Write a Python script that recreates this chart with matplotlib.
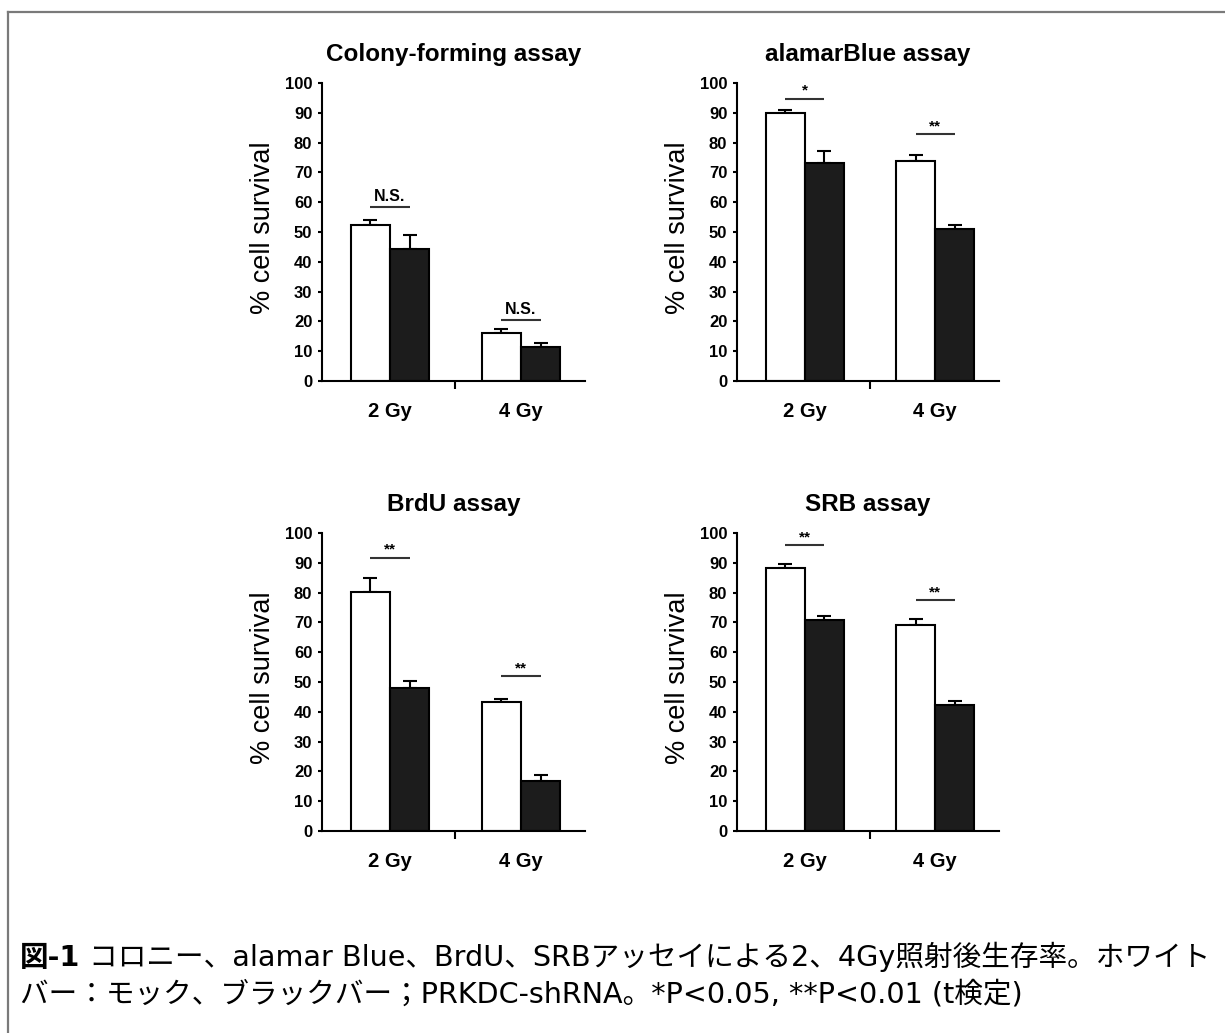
import matplotlib
matplotlib.use('Agg')
import matplotlib.pyplot as plt
from matplotlib.lines import Line2D
import numpy as np

# ---------------- data ----------------
groups = ["2 Gy", "4 Gy"]
titles = ["Colony-forming assay", "alamarBlue assay", "BrdU assay", "SRB assay"]

colony_white = [52.5, 16.2]
colony_white_err = [1.4, 1.4]
colony_black = [44.2, 11.4]
colony_black_err = [4.9, 1.4]

alamar_white = [90.0, 73.7]
alamar_white_err = [0.8, 2.0]
alamar_black = [73.2, 51.0]
alamar_black_err = [3.9, 1.2]

brdu_white = [80.2, 43.3]
brdu_white_err = [4.7, 1.1]
brdu_black = [48.0, 16.7]
brdu_black_err = [2.3, 2.2]

srb_white = [88.4, 69.2]
srb_white_err = [1.3, 2.1]
srb_black = [70.7, 42.2]
srb_black_err = [1.3, 1.4]

colony_sig = ["N.S.", "N.S."]
alamar_sig = ["*", "**"]
brdu_sig = ["**", "**"]
srb_sig = ["**", "**"]

colony_sig_y = [58.4, 20.6]
alamar_sig_y = [94.7, 82.8]
brdu_sig_y = [91.7, 52.0]
srb_sig_y = [95.9, 77.4]

ylabel = "% cell survival"
caption_bold = "図-1"
caption_line1 = " コロニー、alamar Blue、BrdU、SRBアッセイによる2、4Gy照射後生存率。ホワイト"
caption_line2 = "バー：モック、ブラックバー；PRKDC-shRNA。*P<0.05, **P<0.01 (t検定)"

# ---------------- layout ----------------
plt.rcParams['font.family'] = ['Liberation Sans', 'DejaVu Sans']
W, H = 1225, 1033
fig = plt.figure(figsize=(W / 100, H / 100), dpi=100)
fig.patch.set_facecolor('white')


def rect(x0, x1, ytop, ybot):
    return [x0 / W, 1 - ybot / H, (x1 - x0) / W, (ybot - ytop) / H]


panels = [
    (rect(322, 585, 83, 381), colony_white, colony_white_err, colony_black, colony_black_err, colony_sig, colony_sig_y),
    (rect(737, 999, 83, 381), alamar_white, alamar_white_err, alamar_black, alamar_black_err, alamar_sig, alamar_sig_y),
    (rect(322, 585, 533, 831), brdu_white, brdu_white_err, brdu_black, brdu_black_err, brdu_sig, brdu_sig_y),
    (rect(737, 999, 533, 831), srb_white, srb_white_err, srb_black, srb_black_err, srb_sig, srb_sig_y),
]

centers = np.array([1.0, 3.0])
off = 0.3
bw = 0.6

for i, (r, w, we, b, be, sig, sigy) in enumerate(panels):
    ax = fig.add_axes(r)
    ax.bar(centers - off, w, bw, color='white', edgecolor='black', linewidth=1.5, zorder=2)
    ax.bar(centers + off, b, bw, color='#1c1c1c', edgecolor='black', linewidth=1.5, zorder=2)
    ax.errorbar(centers - off, w, yerr=[np.zeros(len(w)), we], fmt='none', ecolor='black',
                elinewidth=1.5, capsize=5, capthick=1.5, zorder=1)
    ax.errorbar(centers + off, b, yerr=[np.zeros(len(b)), be], fmt='none', ecolor='black',
                elinewidth=1.5, capsize=5, capthick=1.5, zorder=1)
    ax.set_xlim(-0.04, 3.98)
    ax.set_ylim(0, 100)
    ax.set_yticks(range(0, 101, 10))
    ax.set_xticks(centers)
    ax.set_xticklabels(groups, fontsize=14.5, fontweight='bold')
    ax.set_xticks([2.0], minor=True)
    ax.tick_params(axis='x', which='major', length=0, pad=15)
    ax.tick_params(axis='x', which='minor', length=6, width=1.5, direction='out')
    ax.tick_params(axis='y', length=3, width=1.5, pad=4, labelsize=12)
    for lbl in ax.get_yticklabels():
        lbl.set_fontweight('bold')
    for s in ['top', 'right']:
        ax.spines[s].set_visible(False)
    for s in ['left', 'bottom']:
        ax.spines[s].set_linewidth(1.5)
    ax.set_title(titles[i], fontsize=17.5, fontweight='bold', pad=16)
    for c, lab, y in zip(centers, sig, sigy):
        ax.plot([c - off, c + off], [y, y], color='#333333', lw=1.5, solid_capstyle='butt')
        if lab == "N.S.":
            ax.text(c, y + 1.0, lab, ha='center', va='bottom', fontsize=11.5, fontweight='bold')
        else:
            ax.text(c, y + 0.3, lab, ha='center', va='bottom', fontsize=11, fontweight='bold')
    # y label
    pos = ax.get_position()
    fig.text(pos.x0 - 59 / W, pos.y0 + pos.height / 2 + 4 / H, ylabel, rotation=90,
             ha='center', va='center', fontsize=19.5)

# frame lines
fig.add_artist(Line2D([8 / W, 1.0], [1 - 12 / H, 1 - 12 / H], transform=fig.transFigure,
                      color='#7a7a7a', lw=1.6))
fig.add_artist(Line2D([8 / W, 8 / W], [1 - 12 / H, 0.0], transform=fig.transFigure,
                      color='#7a7a7a', lw=1.6))

# caption
cap_family = ['DejaVu Sans', 'Noto Sans CJK JP']
cap_fs = 20.6
y1 = 1 - 966 / H
y2 = 1 - 1003 / H
t0 = fig.text(20 / W, y1, caption_bold, fontsize=cap_fs, fontweight='bold', family=cap_family,
              ha='left', va='baseline')
renderer = fig.canvas.get_renderer()
bb = t0.get_window_extent(renderer)
fig.text(bb.x1 / W, y1, caption_line1, fontsize=cap_fs, family=cap_family, ha='left', va='baseline')
fig.text(20 / W, y2, caption_line2, fontsize=cap_fs, family=cap_family, ha='left', va='baseline')

fig.savefig('out.png', dpi=100, facecolor='white')
